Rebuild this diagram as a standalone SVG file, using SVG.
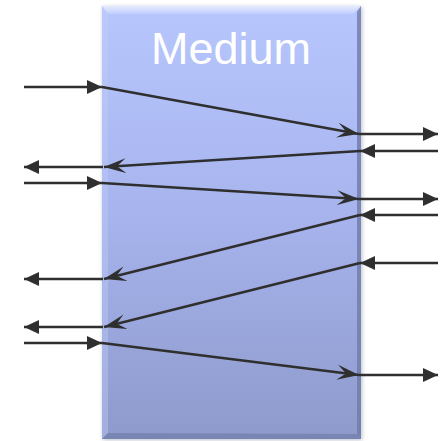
<svg xmlns="http://www.w3.org/2000/svg" width="443" height="441" viewBox="0 0 443 441">
<defs>
<linearGradient id="body" x1="0" y1="0" x2="0" y2="1">
<stop offset="0" stop-color="#b8c6fe"/>
<stop offset="0.5" stop-color="#a6b3ec"/>
<stop offset="1" stop-color="#8e9acb"/>
</linearGradient>
<linearGradient id="topBev" x1="0" y1="0" x2="0" y2="1">
<stop offset="0" stop-color="#eef1ff"/>
<stop offset="1" stop-color="#c4cffd"/>
</linearGradient>
<filter id="sh" x="-10%" y="-10%" width="120%" height="120%">
<feGaussianBlur stdDeviation="2"/>
</filter>
<marker id="solid" viewBox="-15 -7 15 14" refX="0" refY="0" markerWidth="15" markerHeight="14" markerUnits="userSpaceOnUse" orient="auto">
<path d="M0,0 L-15,-7 L-15,7 Z" fill="#2f2f2f"/>
</marker>
<marker id="stealth" viewBox="-22 -8 22 16" refX="0" refY="0" markerWidth="22" markerHeight="16" markerUnits="userSpaceOnUse" orient="auto">
<path d="M0,0 L-22,-7.5 L-13,0 L-22,7.5 Z" fill="#2f2f2f"/>
</marker>
<style>
.s{stroke:#2f2f2f;stroke-width:2.5;fill:none;marker-end:url(#solid)}
.d{stroke:#2f2f2f;stroke-width:2.5;fill:none;marker-end:url(#stealth)}
.lbl{font-family:"Liberation Sans",Arial,sans-serif;font-size:45px;fill:#ffffff;text-anchor:middle}
</style>
</defs>
<g id="medium">
<rect x="103" y="7" width="259" height="433" fill="#6a7090" opacity="0.45" filter="url(#sh)"/>
<rect x="102" y="6" width="259" height="433" fill="url(#body)"/>
<polygon points="102,6 361,6 353,14 108,14" fill="url(#topBev)" opacity="0.85"/>
<polygon points="102,6 108,14 108,433 102,439" fill="#c0ccfb" opacity="0.4"/>
<polygon points="361,6 361,439 357,434 357,12" fill="#6f7aa8" opacity="0.8"/>
<polygon points="102,439 361,439 357,434 108,433" fill="#6f79a6" opacity="0.65"/>
<text class="lbl" x="231" y="64">Medium</text>
</g>
<g id="connectors">
<line class="s" x1="24" y1="87" x2="102" y2="87"/>
<line class="d" x1="102" y1="87" x2="359" y2="134"/>
<line class="s" x1="359" y1="134" x2="438" y2="134"/>
<line class="s" x1="438" y1="151" x2="360" y2="151"/>
<line class="d" x1="360" y1="151" x2="104" y2="167"/>
<line class="s" x1="103" y1="167" x2="24" y2="167"/>
<line class="s" x1="24" y1="183" x2="102" y2="183"/>
<line class="d" x1="102" y1="183" x2="359" y2="199"/>
<line class="s" x1="359" y1="199" x2="438" y2="199"/>
<line class="s" x1="438" y1="215" x2="360" y2="215"/>
<line class="d" x1="360" y1="215" x2="104" y2="279"/>
<line class="s" x1="103" y1="279" x2="24" y2="279"/>
<line class="s" x1="438" y1="263" x2="360" y2="263"/>
<line class="d" x1="360" y1="263" x2="104" y2="327"/>
<line class="s" x1="103" y1="327" x2="24" y2="327"/>
<line class="s" x1="24" y1="343" x2="102" y2="343"/>
<line class="d" x1="102" y1="343" x2="359" y2="375"/>
<line class="s" x1="359" y1="375" x2="438" y2="375"/>
</g>
</svg>
